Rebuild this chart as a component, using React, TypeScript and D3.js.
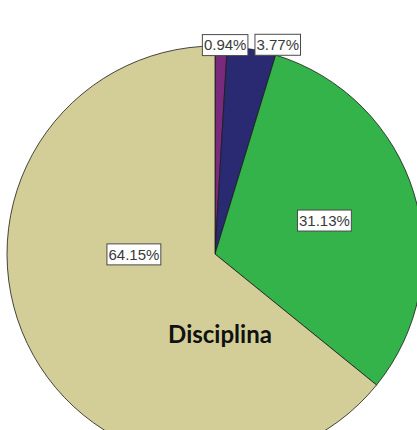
import React, { useEffect, useRef } from 'react';
import * as d3 from 'd3';

// slices clockwise from 12 o'clock
const categories = ['A', 'B', 'C', 'D'];
const percents = [0.94, 3.77, 31.13, 64.15];
const labels = ['0.94%', '3.77%', '31.13%', '64.15%'];
const colors = ['#7a2a7d', '#2a2a72', '#34b34a', '#d3ce98'];

const App = () => {
  const svgRef = useRef<SVGSVGElement>(null);

  useEffect(() => {
    const width = 417;
    const height = 430;
    const cx = 215;
    const cy = 254;
    const radius = 208;

    const svg = d3.select(svgRef.current).attr('width', width).attr('height', height);
    svg.selectAll('*').remove();

    const data = categories.map((c, i) => ({ cat: c, value: percents[i], label: labels[i], color: colors[i] }));

    const pie = d3.pie<any>().sort(null).value(d => d.value);
    const arcs = pie(data);
    const arc = d3.arc<any>().innerRadius(0).outerRadius(radius);

    const g = svg.append('g').attr('transform', `translate(${cx},${cy})`);

    g.selectAll('path')
      .data(arcs)
      .enter()
      .append('path')
      .attr('d', arc)
      .attr('fill', d => d.data.color)
      .attr('stroke', '#1a1a1a')
      .attr('stroke-width', 0.8);

    // label placement (radius factor, angle shift in radians) - SPSS style
    const labelPos = [
      { r: 1.0, shift: 0.0, dx: 4, dy: -1 },
      { r: 1.0, shift: 0.0, dx: 26, dy: -4.5 },
      { r: 0.55, shift: 0.0, dx: 0, dy: 0 },
      { r: 0.39, shift: 0.44, dx: 0, dy: 0 },
    ];

    arcs.forEach((a, i) => {
      const p = labelPos[i];
      const ang = (a.startAngle + a.endAngle) / 2 + p.shift;
      const x = Math.sin(ang) * radius * p.r + p.dx;
      const y = -Math.cos(ang) * radius * p.r + p.dy;
      const lg = g.append('g').attr('transform', `translate(${x},${y})`);
      const t = lg.append('text')
        .attr('text-anchor', 'middle')
        .attr('dy', '0.36em')
        .style('font-family', '"Liberation Sans", Arial, sans-serif')
        .style('font-size', '15px')
        .attr('fill', '#3a3a3a')
        .text(a.data.label);
      const bb = (t.node() as SVGTextElement).getBBox();
      lg.insert('rect', 'text')
        .attr('x', bb.x - 1.5)
        .attr('y', -10.5)
        .attr('width', bb.width + 3)
        .attr('height', 21)
        .attr('fill', 'white')
        .attr('stroke', '#4a4a4a')
        .attr('stroke-width', 1);
    });

    svg.append('text')
      .attr('x', 220)
      .attr('y', 343)
      .attr('text-anchor', 'middle')
      .style('font-family', 'Lato, "Open Sans", sans-serif')
      .style('font-weight', 'bold')
      .style('font-size', '24px')
      .attr('fill', '#111')
      .text('Disciplina');
  }, []);

  return (
    <div style={{ position: 'absolute', left: 0, top: 0, background: 'white' }}>
      <svg ref={svgRef} style={{ display: 'block' }}></svg>
    </div>
  );
};

export default App;
